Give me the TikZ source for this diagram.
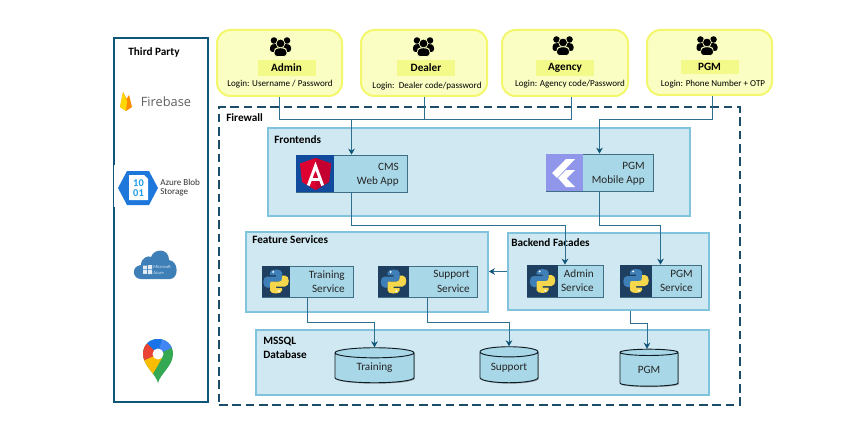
\documentclass[tikz,border=0pt]{standalone}
\usepackage{fontspec}
\setmainfont{Carlito}
\newfontfamily\fbfont{Open Sans}
\usetikzlibrary{arrows.meta,shapes.geometric,shadows,calc}
\definecolor{panelfill}{HTML}{D0E8F1}
\definecolor{panelline}{HTML}{7FC4DC}
\definecolor{cardfill}{HTML}{A8D7E7}
\definecolor{cardline}{HTML}{3F6E85}
\definecolor{yellowfill}{HTML}{FAFEC2}
\definecolor{yellowline}{HTML}{F3F76C}
\definecolor{yellowlabel}{HTML}{F4FA8A}
\definecolor{navy}{HTML}{1B4C68}
\definecolor{thirdline}{HTML}{0F5577}
\definecolor{conn}{HTML}{2E6F90}
\definecolor{pybg}{HTML}{1F3F60}
\definecolor{pyblue}{HTML}{3E7FB8}
\definecolor{pyyellow}{HTML}{F6D64A}
\definecolor{mapgreen}{HTML}{34A853}
\definecolor{mapyellow}{HTML}{FBBC04}
\definecolor{mapred}{HTML}{EA4335}
\definecolor{mapblue}{HTML}{1A73E8}
\definecolor{maplight}{HTML}{4285F4}
\definecolor{flutterbg}{HTML}{9096EA}
\definecolor{azurehex}{HTML}{1E78DC}
\definecolor{azurebits}{HTML}{1E9BE8}
\definecolor{angularbg}{HTML}{0F4A9C}
\definecolor{angularred}{HTML}{DD0031}
\definecolor{angulardark}{HTML}{C3002F}
\tikzset{
  x=.75pt,y=-.75pt,
  actor/.style={draw=yellowline,fill=yellowfill,line width=1.5pt,rounded corners=10pt,inner sep=0pt},
  rolelabel/.style={fill=yellowlabel,inner sep=0pt,minimum width=43.5pt,minimum height=12pt,font=\fontsize{8.4}{10}\selectfont\bfseries},
  login/.style={inner sep=0pt,font=\fontsize{6.8}{8}\selectfont},
  panel/.style={draw=panelline,fill=panelfill,line width=1.4pt,inner sep=0pt},
  card/.style={draw=cardline,fill=cardfill,line width=.6pt,inner sep=0pt,drop shadow={shadow xshift=.7pt,shadow yshift=-.7pt,opacity=.35,fill=black}},
  cardtext/.style={inner sep=0pt,anchor=east,align=right,font=\fontsize{8.4}{10.7}\selectfont,text=black!85},
  grouptitle/.style={inner sep=0pt,anchor=west,align=left,font=\fontsize{8.4}{10.7}\selectfont\bfseries},
  dbstore/.style={cylinder,shape border rotate=90,aspect=.28,draw=black!75!cardline,fill=cardfill,line width=.7pt,inner sep=0pt,font=\fontsize{8.4}{10}\selectfont,text=black!85,drop shadow={shadow xshift=.7pt,shadow yshift=-.7pt,opacity=.3,fill=black}},
  link/.style={draw=conn,line width=.7pt},
  arrowlink/.style={link,-{Stealth[length=4.5pt,width=5pt,color=thirdline]}},
  pics/people/.style={code={
    \fill[black] (-6.5,-5.5) circle[radius=3.3];
    \fill[black] (6.5,-5.5) circle[radius=3.3];
    \fill[black,rounded corners=2pt] (-10.5,6) -- (-10.5,-1) -- (-6,-2) -- (6,-2) -- (10.5,-1) -- (10.5,6) -- cycle;
    \fill[black,draw=yellowfill,line width=.5pt] (0,-2.5) circle[radius=4.4];
    \fill[black,draw=yellowfill,line width=.5pt,rounded corners=2.5pt] (-6.5,10.5) -- (-6.5,3.5) -- (-3,1.8) -- (3,1.8) -- (6.5,3.5) -- (6.5,10.5) -- cycle;
  }},
  pics/python/.style={code={
    \fill[pyblue] (-6,-9) .. controls (-6,-13) and (6,-13) .. (6,-9) -- (6,-2) .. controls (6,0) and (5,0) .. (3,0) -- (-3,0) .. controls (-5,0) and (-6,1) .. (-6,3) -- (-6,6) -- (-9,6) .. controls (-14,6) and (-14,-5) .. (-9,-5) -- (0,-5) -- (0,-6.5) -- (-6,-6.5) -- cycle;
    \fill[pyyellow] (6,9) .. controls (6,13) and (-6,13) .. (-6,9) -- (-6,2) .. controls (-6,0) and (-5,0) .. (-3,0) -- (3,0) .. controls (5,0) and (6,-1) .. (6,-3) -- (6,-6) -- (9,-6) .. controls (14,-6) and (14,5) .. (9,5) -- (0,5) -- (0,6.5) -- (6,6.5) -- cycle;
    \fill[white] (-2.8,-9.6) circle[radius=1.1];
    \fill[white] (2.8,9.6) circle[radius=1.1];
  }},
}
\begin{document}
\begin{tikzpicture}
\fill[white] (0,0) rectangle (848,442);
\useasboundingbox (0,0) rectangle (848,442);

% third party column
\node[draw=thirdline,line width=1.6pt,minimum width=70.5pt,minimum height=273pt,inner sep=0pt] (third) at (161,220) {};
\fill[white] (114.2,165) rectangle (186,207);
\node[inner sep=0pt,font=\fontsize{8.4}{10}\selectfont\bfseries] (thirdtitle) at (154,52.5) {Third Party};
% firebase
\fill[orange!90!yellow] (120,107) -- (123,92) -- (126.5,99) -- (129,95) -- (132,107) -- (126,111) -- cycle;
\fill[yellow!75!orange] (120,107) -- (123,92) -- (127,101) -- (126,111) -- cycle;
\node[inner sep=0pt,text=black!62,font=\fontsize{9.6}{11}\fbfont] (firebase) at (166,102) {Firebase};
% azure blob
\fill[azurehex] (118,188) -- (127,171) -- (149,171) -- (158,188) -- (149,205) -- (127,205) -- cycle;
\fill[white] (129,175) -- (144,175) -- (148,179) -- (148,200) -- (129,200) -- cycle;
\node[inner sep=0pt,align=center,text=azurebits,font=\fontsize{7.8}{7.6}\selectfont\bfseries] (blobbits) at (138.5,188) {10\\01};
\node[inner sep=0pt,anchor=west,align=left,font=\fontsize{6.8}{6.9}\selectfont,text=black!80] (blobname) at (160,187.5) {Azure Blob\\Storage};
% azure cloud
\fill[pyblue] (141,279) .. controls (132,279) and (131,266) .. (141,265) .. controls (141,258) and (148,255) .. (151,257) .. controls (154,248) and (169,248) .. (169,260) .. controls (179,261) and (179,279) .. (170,279) -- cycle;
\fill[white!85!pyblue] (143,265.5) rectangle (147.2,269.3) (148,265.2) rectangle (152.2,269.3) (143,270) rectangle (147.2,273.8) (148,270) rectangle (152.2,274.2);
\node[inner sep=0pt,align=left,anchor=west,text=white!80!pyblue,font=\fontsize{3.4}{4.2}\selectfont] (azurename) at (153,270) {Microsoft\\Azure};
% google maps pin
\begin{scope}[shift={(158,354)}]
\path[clip] (0,29) .. controls (-2,20) and (-15,12) .. (-15,0) .. controls (-15,-20) and (15,-20) .. (15,0) .. controls (15,12) and (2,20) .. (0,29) -- cycle;
\fill[mapgreen] (-20,-25) rectangle (20,30);
\fill[mapyellow] (0,0) -- (-20,9) -- (-20,25) -- (-8,25) -- (4,4) -- cycle;
\fill[mapred] (0,0) -- (-11,-11) -- (-20,-11) -- (-20,9) -- cycle;
\fill[mapblue] (0,0) -- (-11,-11) -- (-11,-25) -- (7,-25) -- cycle;
\fill[maplight] (0,0) -- (7,-25) -- (20,-25) -- (20,-9) -- cycle;
\fill[white] (0,0) circle[radius=5.5];
\end{scope}

% actors
\node[actor,minimum width=93.75pt,minimum height=49.5pt] (admin) at (279.5,63) {};
\node[actor,minimum width=94.5pt,minimum height=49.5pt] (dealer) at (424,63) {};
\node[actor,minimum width=94.5pt,minimum height=49.5pt] (agency) at (565,63) {};
\node[actor,minimum width=93.75pt,minimum height=48.75pt] (pgm) at (709.5,62.5) {};
\pic at (280.5,46) {people};
\pic at (423.5,46) {people};
\pic at (563,45) {people};
\pic at (707,45) {people};
\node[rolelabel] (adminrole) at (286.5,68) {Admin};
\node[rolelabel] (dealerrole) at (426,68) {Dealer};
\node[rolelabel] (agencyrole) at (565,68) {Agency};
\node[rolelabel,minimum height=11pt] (pgmrole) at (709.5,67) {PGM};
\node[login] (adminlogin) at (280,84) {Login: Username / Password};
\node[login] (dealerlogin) at (427,86) {Login:\, Dealer code/password};
\node[login] (agencylogin) at (570,84) {Login: Agency code/Password};
\node[login] (pgmlogin) at (713,84) {Login: Phone Number + OTP};

% firewall
\node[draw=navy,line width=1.5pt,dash pattern=on 6.4pt off 3.6pt,minimum width=390.75pt,minimum height=223.5pt,inner sep=0pt] (firewall) at (479.5,256) {};
\node[grouptitle] (firewalltitle) at (226,118) {Firewall};

% panels
\node[panel,minimum width=316.5pt,minimum height=66pt] (frontends) at (479,172) {};
\node[panel,minimum width=181.5pt,minimum height=60pt] (feature) at (367,272) {};
\node[panel,minimum width=150.75pt,minimum height=57.75pt] (backend) at (608.5,271.5) {};
\node[panel,minimum width=339.75pt,minimum height=48.75pt] (mssql) at (482.5,362.5) {};
\node[grouptitle] (frontendstitle) at (274,139.5) {Frontends};
\node[grouptitle] (featuretitle) at (252,240) {Feature Services};
\node[grouptitle] (backendtitle) at (511,243) {Backend Facades};
\node[grouptitle] (mssqltitle) at (263,348) {MSSQL\\Database};

% cards
\node[card,minimum width=83.25pt,minimum height=27.75pt] (cms) at (351.5,173.5) {};
\node[card,minimum width=80.25pt,minimum height=27.75pt] (mobile) at (599.5,172.5) {};
\node[card,minimum width=68.25pt,minimum height=23.25pt] (trainsvc) at (307.5,281.5) {};
\node[card,minimum width=74.25pt,minimum height=23.25pt] (supportsvc) at (427.5,281.5) {};
\node[card,minimum width=57pt,minimum height=24pt] (adminsvc) at (565,281) {};
\node[card,minimum width=60.75pt,minimum height=24pt] (pgmsvc) at (660.5,281) {};

% angular tile
\fill[angularbg] (296,155) rectangle (334,192);
\fill[angularred] (315.5,158) -- (331,163.5) -- (329,182) -- (315.5,190) -- (302,182) -- (300,163.5) -- cycle;
\fill[angulardark] (315.5,158) -- (331,163.5) -- (329,182) -- (315.5,190) -- cycle;
\draw[white,line width=2.2pt] (308.3,185.5) -- (315.5,166) -- (322.7,185.5);
\draw[white,line width=1.6pt] (311,179.5) -- (320,179.5);
% flutter tile
\fill[flutterbg] (546,154) rectangle (583,191);
\fill[white] (575,159) -- (566,159) -- (552,173) -- (557,178) -- cycle;
\fill[white] (575,170) -- (566,170) -- (558,178) -- (566,187) -- (575,187) -- (566.5,178.5) -- cycle;
% python tiles
\fill[pybg] (262,266) rectangle (290,297);
\fill[pybg] (378,266) rectangle (409,297);
\fill[pybg] (527,265) rectangle (558,297);
\fill[pybg] (620,265) rectangle (652,297);
\pic at (276,281.5) {python};
\pic at (393.5,281.5) {python};
\pic at (542.5,281) {python};
\pic at (636,281) {python};

% card texts
\node[cardtext] (cmstext) at (399,175) {CMS\\Web App};
\node[cardtext] (mobiletext) at (645,173.5) {PGM\\Mobile App};
\node[cardtext] (traintext) at (345,281.5) {Training\\Service};
\node[cardtext] (supporttext) at (470,281.5) {Support\\Service};
\node[cardtext] (admintext) at (594,281) {Admin\\Service};
\node[cardtext] (pgmtext) at (693,281) {PGM\\Service};

% databases
\node[dbstore,minimum width=59.25pt,minimum height=26.25pt] (traindb) at (374.5,368) {\raisebox{-1pt}{Training}};
\node[dbstore,minimum width=43.5pt,minimum height=27pt] (supportdb) at (509,367.5) {\raisebox{-.5pt}{Support}};
\node[dbstore,minimum width=43.5pt,minimum height=27.75pt] (pgmdb) at (649,369.5) {\raisebox{-.5pt}{PGM}};

% connectors
\coordinate (loginbus) at (351.5,119);
\draw[link] (admin.south) |- (loginbus);
\draw[link] (dealer.south) |- (loginbus);
\draw[link] ([xshift=4.5pt]agency.south) |- (loginbus);
\draw[arrowlink] (loginbus) -- (cms.north);
\draw[arrowlink] ([xshift=1.9pt]pgm.south) -- ++(0,23) -| (mobile.north);
\draw[arrowlink] (cms.south) -- ++(0,33) -| (adminsvc.north);
\draw[arrowlink] (mobile.south) -- ++(0,34) -| (pgmsvc.north);
\draw[arrowlink] (backend.west) -- (backend.west -| feature.east);
\draw[arrowlink] (trainsvc.south) -- ++(0,25) -| (traindb.north);
\draw[arrowlink] (supportsvc.south) -- ++(0,25) -| (supportdb.north);
\draw[arrowlink] ([xshift=16.1pt]backend.south) -- ++(0,13) -| ([xshift=-1.5pt]pgmdb.north);
\end{tikzpicture}
\end{document}
